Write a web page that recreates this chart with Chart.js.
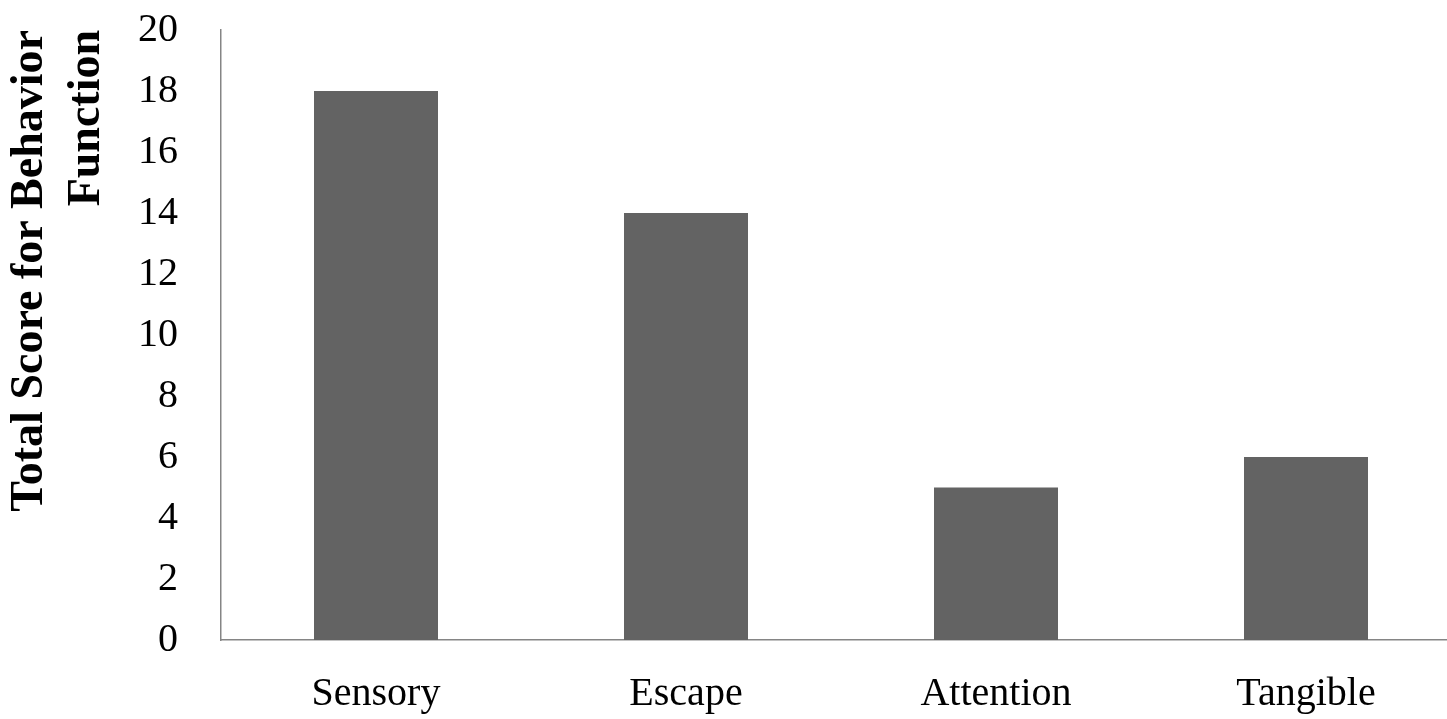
<!DOCTYPE html>
<html>
<head>
<meta charset="utf-8">
<script src="https://cdn.jsdelivr.net/npm/chart.js@4/dist/chart.umd.min.js"></script>
<style>
  html, body { margin: 0; padding: 0; background: #fff; overflow: hidden; }
  #wrap { width: 1447px; height: 719px; overflow: hidden; }
  canvas { display: block; }
</style>
</head>
<body>
<div id="wrap"><canvas id="c" width="1461" height="719"></canvas></div>
<script>
// Behaviour-function scores per category
const categories = ['Sensory', 'Escape', 'Attention', 'Tangible'];
const totalScores = [18, 14, 5, 6];
const yTicks = [0, 2, 4, 6, 8, 10, 12, 14, 16, 18, 20];
const yTitle = ['Total Score for Behavior', 'Function'];

const serif = "'Liberation Serif', 'Times New Roman', serif";
const axisGrey = '#858585';

new Chart(document.getElementById('c'), {
  type: 'bar',
  data: {
    labels: categories,
    datasets: [{
      data: totalScores,
      backgroundColor: '#636363',
      borderWidth: 0,
      barPercentage: 0.4,
      categoryPercentage: 1.0
    }]
  },
  options: {
    responsive: false,
    animation: false,
    layout: { padding: { top: 30, left: 0, right: 0, bottom: 0 } },
    plugins: { legend: { display: false }, tooltip: { enabled: false } },
    scales: {
      x: {
        grid: { display: false, drawTicks: false },
        border: { display: true, color: axisGrey, width: 1.5 },
        ticks: { color: '#000', padding: 30, font: { family: serif, size: 40 } },
        afterFit: (s) => { s.height = 79; s.paddingLeft = 0; s.paddingRight = 0; }
      },
      y: {
        min: 0,
        max: 20,
        afterBuildTicks: (s) => { s.ticks = yTicks.map(v => ({ value: v })); },
        grid: { display: false, drawTicks: false },
        border: { display: true, color: axisGrey, width: 1.5 },
        ticks: { color: '#000', padding: 43, font: { family: serif, size: 40 } },
        title: {
          display: true,
          text: yTitle,
          align: 'end',
          color: '#000',
          padding: { top: 1, bottom: 0 },
          font: { family: serif, size: 46, weight: 'bold', lineHeight: 1.25 }
        },
        afterFit: (s) => { s.width = 221; s.paddingTop = 0; s.paddingBottom = 0; }
      }
    }
  }
});
</script>
</body>
</html>
